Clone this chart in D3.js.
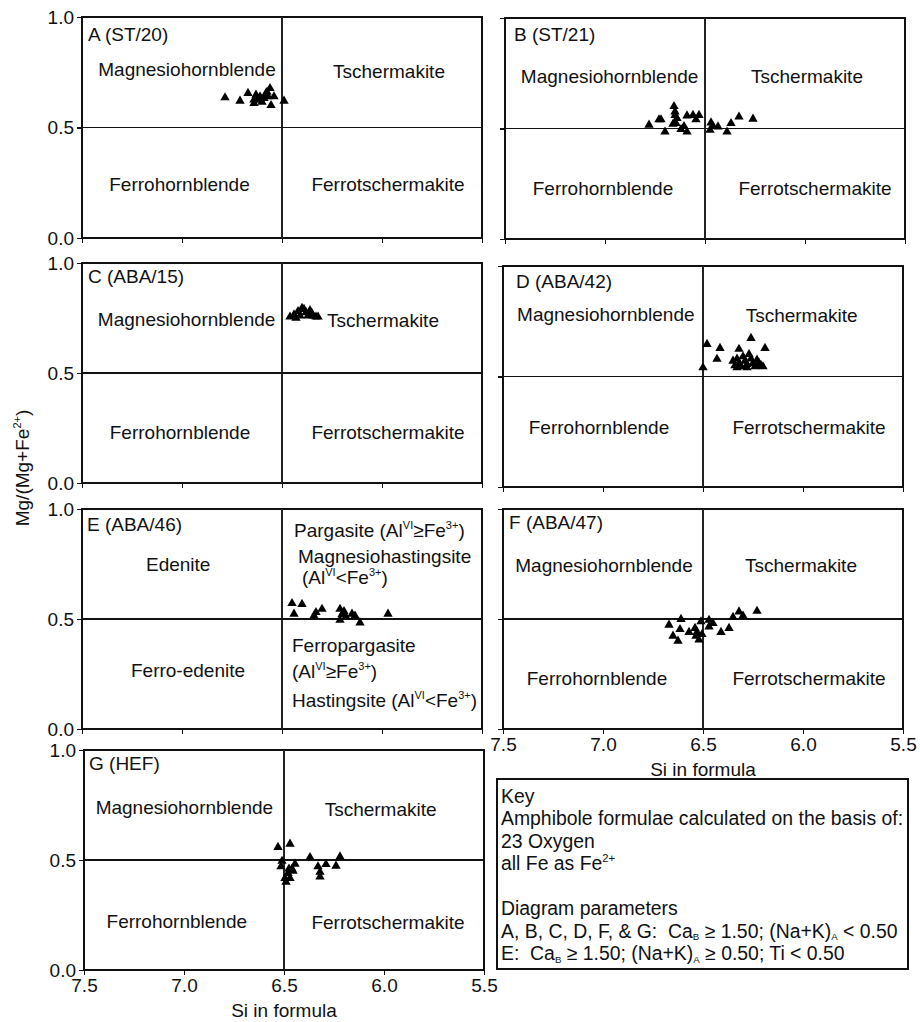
<!DOCTYPE html>
<html><head><meta charset="utf-8">
<script src="https://cdn.jsdelivr.net/npm/d3@7"></script>
<style>
body{margin:0;background:#fff;}
svg text{font-family:"Liberation Sans", Arial, Helvetica, sans-serif;fill:#111;white-space:pre;}
</style></head><body>
<svg id="chart" width="920" height="1022"></svg>
<script>
// ---------- data ----------
const xTicks = [7.5, 7.0, 6.5, 6.0, 5.5];
const yTicks = [0.0, 0.5, 1.0];
const xDomain = [7.5, 5.5];
const yDomain = [0, 1];
const siBoundary = 6.5;
const mgBoundary = 0.5;
const xTitle = "Si in formula";

const panelNames = ["A (ST/20)", "B (ST/21)", "C (ABA/15)", "D (ABA/42)", "E (ABA/46)", "F (ABA/47)", "G (HEF)"];

const sampleA = [[6.785,0.635],[6.71,0.62],[6.67,0.655],[6.64,0.625],[6.63,0.647],[6.62,0.625],[6.60,0.615],[6.64,0.61],[6.59,0.632],[6.58,0.655],[6.56,0.677],[6.57,0.64],[6.54,0.64],[6.555,0.60],[6.49,0.62],[6.575,0.66],[6.61,0.64]];
const sampleB = [[6.78,0.516],[6.73,0.54],[6.72,0.54],[6.70,0.485],[6.655,0.60],[6.65,0.576],[6.65,0.56],[6.64,0.546],[6.645,0.523],[6.62,0.496],[6.59,0.558],[6.59,0.485],[6.545,0.54],[6.53,0.56],[6.56,0.56],[6.47,0.526],[6.475,0.493],[6.46,0.51],[6.435,0.508],[6.39,0.485],[6.37,0.523],[6.33,0.553],[6.26,0.543],[6.605,0.51],[6.66,0.52]];
const sampleC = [[6.46,0.755],[6.44,0.765],[6.42,0.78],[6.40,0.795],[6.39,0.79],[6.38,0.775],[6.36,0.785],[6.35,0.77],[6.33,0.755],[6.32,0.755],[6.41,0.76],[6.37,0.76],[6.43,0.75],[6.345,0.76]];
const sampleD = [[6.48,0.646],[6.415,0.628],[6.43,0.579],[6.50,0.54],[6.26,0.673],[6.32,0.624],[6.19,0.628],[6.35,0.57],[6.34,0.55],[6.33,0.58],[6.32,0.56],[6.31,0.545],[6.30,0.59],[6.29,0.57],[6.28,0.555],[6.27,0.60],[6.26,0.58],[6.25,0.56],[6.24,0.545],[6.23,0.575],[6.22,0.56],[6.21,0.55],[6.20,0.545],[6.33,0.54],[6.28,0.54]];
const sampleE = [[6.45,0.571],[6.40,0.567],[6.44,0.523],[6.34,0.514],[6.33,0.53],[6.30,0.545],[6.21,0.545],[6.21,0.495],[6.20,0.52],[6.18,0.51],[6.15,0.523],[6.135,0.514],[6.11,0.483],[5.97,0.523],[6.19,0.535]];
const sampleF = [[6.67,0.473],[6.61,0.499],[6.615,0.453],[6.65,0.423],[6.625,0.40],[6.57,0.44],[6.54,0.458],[6.535,0.423],[6.52,0.405],[6.51,0.488],[6.505,0.43],[6.47,0.495],[6.45,0.48],[6.47,0.465],[6.41,0.44],[6.37,0.458],[6.35,0.508],[6.32,0.533],[6.30,0.514],[6.23,0.536],[6.53,0.44]];
const sampleG = [[6.53,0.558],[6.47,0.573],[6.51,0.495],[6.515,0.47],[6.495,0.417],[6.48,0.44],[6.47,0.417],[6.46,0.46],[6.445,0.482],[6.455,0.45],[6.475,0.46],[6.37,0.512],[6.33,0.47],[6.32,0.445],[6.32,0.424],[6.29,0.48],[6.24,0.473],[6.22,0.515],[6.49,0.40]];

// field names for the standard calcic-amphibole diagram and the E panel
const stdFields = ["Magnesiohornblende", "Tschermakite", "Ferrohornblende", "Ferrotschermakite"];
const yTitle = [{t:"Mg/(Mg+Fe"},{t:"2+",sup:true},{t:")"}];

const keyLines = [
  [{t:"Key"}],
  [{t:"Amphibole formulae calculated on the basis of:"}],
  [{t:"23 Oxygen"}],
  [{t:"all Fe as Fe"},{t:"2+",sup:true}],
  [],
  [{t:"Diagram parameters"}],
  [{t:"A, B, C, D, F, & G:  Ca"},{t:"B",sub:true},{t:" ≥ 1.50; (Na+K)"},{t:"A",sub:true},{t:" < 0.50"}],
  [{t:"E:  Ca"},{t:"B",sub:true},{t:" ≥ 1.50; (Na+K)"},{t:"A",sub:true},{t:" ≥ 0.50; Ti < 0.50"}]
];

// ---------- layout ----------
const panels = [
  {name:panelNames[0], pts:sampleA, box:[82,17,400,221], tOff:[6,24], yLab:true, xLab:false,
   fields:[[stdFields[0],6.975,0.733,"middle"],[stdFields[1],5.965,0.724,"middle"],[stdFields[2],7.0125,0.214,"middle"],[stdFields[3],5.97,0.214,"middle"]]},
  {name:panelNames[1], pts:sampleB, box:[505,18,400,221], tOff:[9,23], yLab:false, xLab:false,
   fields:[[stdFields[0],6.977,0.707,"middle"],[stdFields[1],5.99,0.707,"middle"],[stdFields[2],7.01,0.199,"middle"],[stdFields[3],5.95,0.199,"middle"]]},
  {name:panelNames[2], pts:sampleC, box:[82,263,400,220], tOff:[6,20], yLab:true, xLab:false,
   fields:[[stdFields[0],6.977,0.714,"middle"],[stdFields[1],5.995,0.708,"middle"],[stdFields[2],7.01,0.2,"middle"],[stdFields[3],5.97,0.2,"middle"]]},
  {name:panelNames[3], pts:sampleD, box:[503,266,400,221], tOff:[13,22], yLab:false, xLab:false,
   fields:[[stdFields[0],6.986,0.751,"middle"],[stdFields[1],6.007,0.748,"middle"],[stdFields[2],7.02,0.238,"middle"],[stdFields[3],5.97,0.238,"middle"]]},
  {name:panelNames[4], pts:sampleE, box:[82,509,400,220], tOff:[5,22], yLab:true, xLab:false,
   fields:[
     [[{t:"Edenite"}],7.019,0.718,"middle"],
     [[{t:"Pargasite (Al"},{t:"VI",sup:true},{t:"≥Fe"},{t:"3+",sup:true},{t:")"}],6.44,0.874,"start"],
     [[{t:"Magnesiohastingsite"}],6.42,0.756,"start"],
     [[{t:"(Al"},{t:"VI",sup:true},{t:"<Fe"},{t:"3+",sup:true},{t:")"}],6.40,0.658,"start"],
     [[{t:"Ferro-edenite"}],6.97,0.235,"middle"],
     [[{t:"Ferropargasite"}],6.45,0.351,"start"],
     [[{t:"(Al"},{t:"VI",sup:true},{t:"≥Fe"},{t:"3+",sup:true},{t:")"}],6.45,0.23,"start"],
     [[{t:"Hastingsite (Al"},{t:"VI",sup:true},{t:"<Fe"},{t:"3+",sup:true},{t:")"}],6.45,0.101,"start"]
   ]},
  {name:panelNames[5], pts:sampleF, box:[503,509,400,220], tOff:[6,20], yLab:false, xLab:true,
   fields:[[stdFields[0],6.995,0.715,"middle"],[stdFields[1],6.01,0.715,"middle"],[stdFields[2],7.03,0.2,"middle"],[stdFields[3],5.97,0.2,"middle"]]},
  {name:panelNames[6], pts:sampleG, box:[84,750,400,220], tOff:[5,20], yLab:true, xLab:true,
   fields:[[stdFields[0],6.998,0.708,"middle"],[stdFields[1],6.017,0.70,"middle"],[stdFields[2],7.036,0.19,"middle"],[stdFields[3],5.98,0.185,"middle"]]}
];

const FS = 19;
const svg = d3.select("#chart");

function rich(sel, segs, fs){
  let shift = 0;
  segs.forEach(s=>{
    const ts = sel.append("tspan").text(s.t);
    let target = 0, size = fs;
    if (s.sup){ target = -0.42*fs; size = fs*0.58; }
    if (s.sub){ target = 0.14*fs; size = fs*0.5; }
    ts.attr("dy", target - shift).style("font-size", size+"px");
    shift = target;
  });
}

panels.forEach(p=>{
  const [x0,y0,w,h] = p.box;
  const x = d3.scaleLinear().domain(xDomain).range([x0, x0+w]);
  const y = d3.scaleLinear().domain(yDomain).range([y0+h, y0]);
  const g = svg.append("g");

  // frame & boundaries
  g.append("rect").attr("x",x0).attr("y",y0).attr("width",w).attr("height",h)
    .attr("fill","none").attr("stroke","#111").attr("stroke-width",1.2).attr("shape-rendering","crispEdges");
  g.append("line").attr("x1",x(siBoundary)).attr("x2",x(siBoundary)).attr("y1",y(1)).attr("y2",y(0))
    .attr("stroke","#222").attr("stroke-width",1.2).attr("shape-rendering","crispEdges");
  g.append("line").attr("x1",x(7.5)).attr("x2",x(5.5)).attr("y1",y(mgBoundary)).attr("y2",y(mgBoundary))
    .attr("stroke","#111").attr("stroke-width",1.2).attr("shape-rendering","crispEdges");

  // axes
  const ya = d3.axisLeft(y).tickValues(yTicks).tickSize(5).tickPadding(3)
    .tickFormat(p.yLab ? d3.format(".1f") : ()=>"");
  const yg = g.append("g").attr("transform",`translate(${x0},0)`).call(ya);
  const xa = d3.axisBottom(x).tickValues(xTicks).tickSize(5).tickPadding(4)
    .tickFormat(p.xLab ? d3.format(".1f") : ()=>"");
  const xg = g.append("g").attr("transform",`translate(0,${y0+h})`).call(xa);
  [yg,xg].forEach(a=>{
    a.select(".domain").remove();
    a.selectAll(".tick line").attr("stroke","#111").attr("stroke-width",1.2).attr("shape-rendering","crispEdges");
    a.selectAll(".tick text").style("font-family",'"Liberation Sans", Arial, sans-serif').style("font-size",FS+"px").attr("fill","#111");
  });

  // panel title
  g.append("text").attr("x",x0+p.tOff[0]).attr("y",y0+p.tOff[1]).style("font-size",FS+"px").text(p.name);

  // field labels
  p.fields.forEach(f=>{
    const t = g.append("text").attr("x",x(f[1])).attr("y",y(f[2])).attr("text-anchor",f[3]).style("font-size",FS+"px");
    if (typeof f[0] === "string") t.text(f[0]); else rich(t, f[0], FS);
  });

  // points
  g.selectAll("path.pt").data(p.pts).enter().append("path").attr("class","pt")
    .attr("d", d3.symbol().type(d3.symbolTriangle).size(38))
    .attr("transform", d=>`translate(${x(d[0])},${y(d[1])})`)
    .attr("fill","#000");

  if (p.xLab){
    g.append("text").attr("x",x0+w/2).attr("y",y0+h+47).attr("text-anchor","middle").style("font-size",FS+"px").text(xTitle);
  }
});

// y axis title
const yt = svg.append("text").attr("transform","translate(29,468) rotate(-90)").attr("text-anchor","middle").style("font-size",FS+"px");
rich(yt, yTitle, FS);

// key box
const KFS = 19.4;
const kb = {x:497, y:779, w:411, h:190};
svg.append("rect").attr("x",kb.x).attr("y",kb.y).attr("width",kb.w).attr("height",kb.h)
  .attr("fill","none").attr("stroke","#111").attr("stroke-width",1.2).attr("shape-rendering","crispEdges");
keyLines.forEach((ln,i)=>{
  if (!ln.length) return;
  const t = svg.append("text").attr("x",kb.x+4).attr("y",kb.y+23.5+i*22.5).style("font-size",KFS+"px");
  rich(t, ln, KFS);
});
</script>
</body></html>
